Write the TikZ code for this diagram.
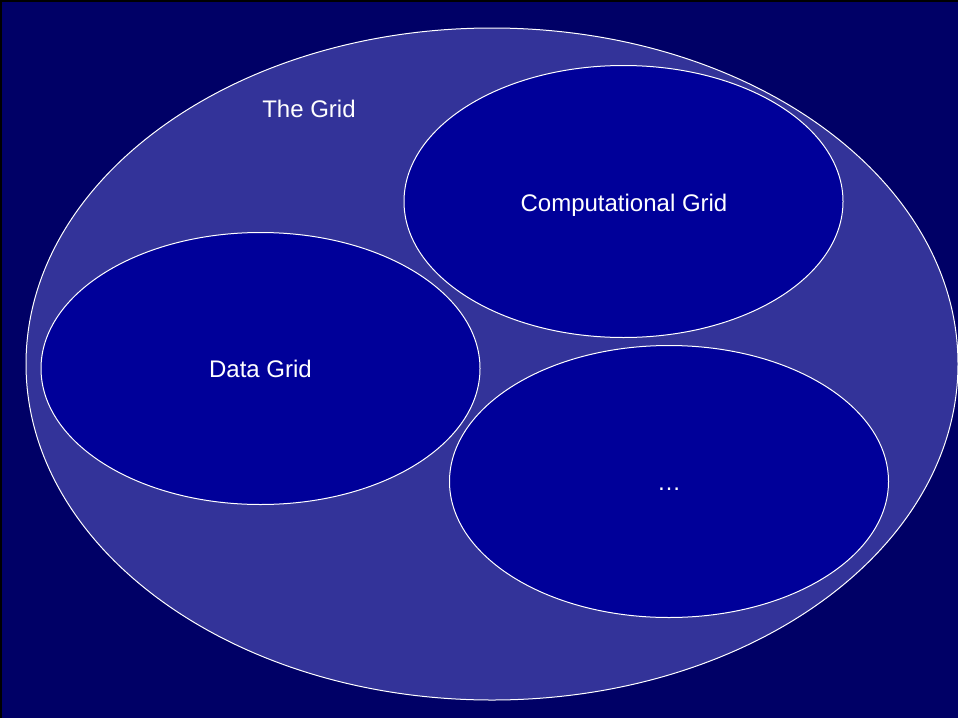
\documentclass[tikz,border=0pt]{standalone}
\usepackage{fontspec}
\setmainfont{Liberation Sans}
\usetikzlibrary{shapes.geometric}
\definecolor{bgnavy}{HTML}{000066}
\definecolor{gridfill}{HTML}{333399}
\definecolor{subfill}{HTML}{000099}
\tikzset{
  outer/.style={ellipse, draw=white, line width=1pt, fill=gridfill, inner sep=0pt},
  inner/.style={ellipse, draw=white, line width=1pt, fill=subfill, inner sep=0pt, minimum width=439pt, minimum height=272pt},
  label/.style={text=white, font=\fontsize{24pt}{28pt}\selectfont, inner sep=0pt, anchor=base}
}
\begin{document}
\begin{tikzpicture}[x=1pt,y=-1pt]
\useasboundingbox (0,0) rectangle (958,718);
\fill[bgnavy] (0,0) rectangle (958,718);
\fill[black] (0,0) rectangle (958,2);
\fill[black] (0,0) rectangle (2,718);
\node[outer, minimum width=932pt, minimum height=672pt] (grid) at (492,364) {};
\node[inner] (comp) at (623.5,201.5) {};
\node[inner] (data) at (260.5,368.5) {};
\node[inner] (more) at (669,481.5) {};
\node[label] (gridlbl) at (309,117) {The Grid};
\node[label] (complbl) at (624,211) {Computational Grid};
\node[label] (datalbl) at (260.5,377) {Data Grid};
\node[label] (morelbl) at (669,490) {\ldots};
\end{tikzpicture}
\end{document}
